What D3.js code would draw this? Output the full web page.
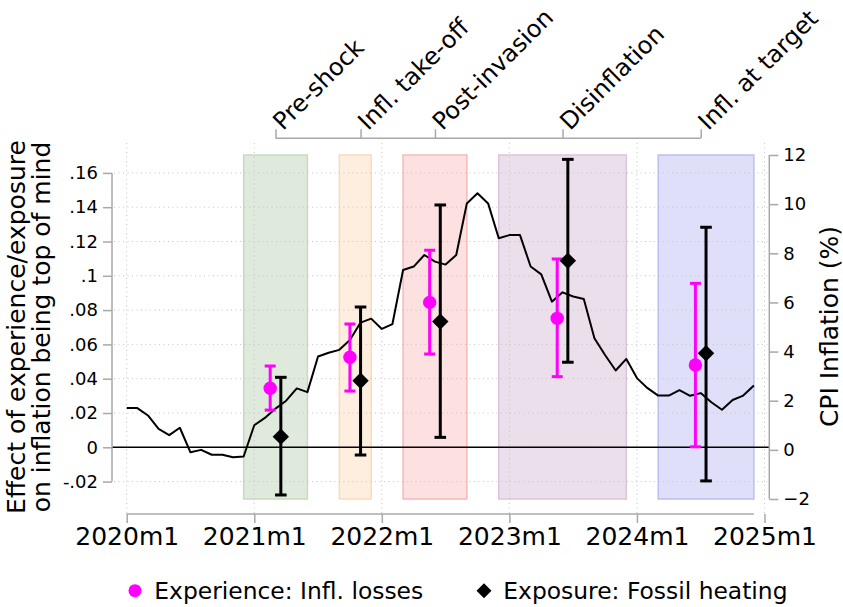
<!DOCTYPE html>
<html>
<head>
<meta charset="utf-8">
<script src="https://cdn.jsdelivr.net/npm/d3@7/dist/d3.min.js"></script>
<style>
  html, body { margin: 0; padding: 0; background: #fff; }
  svg { display: block; font-family: "DejaVu Sans", sans-serif; }
</style>
</head>
<body>
<svg id="chart" width="843" height="607"></svg>
<script>
// ---------------- DATA ----------------
// x positions are months since 2020m1
const yearTicks = [0, 12, 24, 36, 48, 60];
const yearLabels = ["2020m1", "2021m1", "2022m1", "2023m1", "2024m1", "2025m1"];

const periodTicks = [14, 22, 29, 41, 54];
const periodLabels = ["Pre-shock", "Infl. take-off", "Post-invasion", "Disinflation", "Infl. at target"];
const periodStart = [11, 20, 26, 35, 50];
const periodEnd = [17, 23, 32, 47, 59];

const leftTicks = [-0.02, 0, 0.02, 0.04, 0.06, 0.08, 0.10, 0.12, 0.14, 0.16];
const leftLabels = ["-.02", "0", ".02", ".04", ".06", ".08", ".1", ".12", ".14", ".16"];
const rightTicks = [-2, 0, 2, 4, 6, 8, 10, 12];

// CPI inflation (%), monthly 2020m1..2024m12
const cpi = [
  1.7, 1.7, 1.4, 0.85, 0.6, 0.9, -0.1, 0.0, -0.2, -0.2, -0.3, -0.27,
  1.0, 1.3, 1.68, 2.0, 2.5, 2.35, 3.8, 3.95, 4.07, 4.47, 5.18, 5.34,
  4.92, 5.12, 7.32, 7.46, 7.93, 7.66, 7.54, 7.93, 10.03, 10.44, 10.03, 8.61,
  8.74, 8.74, 7.46, 7.14, 6.03, 6.41, 6.24, 6.14, 4.54, 3.86, 3.23, 3.7,
  2.92, 2.51, 2.21, 2.21, 2.43, 2.2, 2.31, 1.94, 1.63, 2.03, 2.21, 2.62
];

// Experience: Infl. losses
const expX  = [13.5, 21.0, 28.5, 40.5, 53.5];
const expB  = [0.0344, 0.0525, 0.0845, 0.0752, 0.0480];
const expLo = [0.0217, 0.0328, 0.0544, 0.0412, 0.0003];
const expHi = [0.0474, 0.0719, 0.1149, 0.1098, 0.0956];

// Exposure: Fossil heating
const fosX  = [14.5, 22.0, 29.5, 41.5, 54.5];
const fosB  = [0.0062, 0.0388, 0.0733, 0.1088, 0.0548];
const fosLo = [-0.0278, -0.0045, 0.0058, 0.0496, -0.0196];
const fosHi = [0.0408, 0.0818, 0.1413, 0.1679, 0.1283];

const legendLabels = ["Experience: Infl. losses", "Exposure: Fossil heating"];
const leftTitle = ["Effect of experience/exposure", "on inflation being top of mind"];
const rightTitle = "CPI Inflation (%)";

// ---------------- STYLE ----------------
const bandFill = ["#dfe9dc", "#fdeedf", "#fde0e0", "#ecdfec", "#dfdff9"];
const bandStroke = ["#c6dcc2", "#fbdab8", "#f6b9b9", "#dcc4dc", "#bdbdf3"];
const axisGray = "#a8a8a8";
const gridGray = "#c4c4c4";
const magenta = "#ff00ff";

// ---------------- SCALES ----------------
const x = d3.scaleLinear().domain([0, 60]).range([126.7, 764.5]);
const yL = d3.scaleLinear().domain([-0.02, 0.16]).range([481.6, 172.9]);
const yR = d3.scaleLinear().domain([-2, 12]).range([499, 155]);

const plotLeft = 112, plotRight = 769.3;
const svg = d3.select("#chart");

function diamondPath(r) {
  return `M0,${-r}L${r},0L0,${r}L${-r},0Z`;
}

// ---------------- BANDS ----------------
svg.append("g").selectAll("rect")
  .data(periodStart.map((s, i) => ({ s, e: periodEnd[i], i })))
  .join("rect")
  .attr("x", d => x(d.s))
  .attr("width", d => x(d.e) - x(d.s))
  .attr("y", yR(12))
  .attr("height", yR(-2) - yR(12))
  .attr("fill", d => bandFill[d.i])
  .attr("stroke", d => bandStroke[d.i])
  .attr("stroke-width", 1.5);

// ---------------- GRID ----------------
const grid = svg.append("g");
grid.selectAll("line.h").data(leftTicks).join("line")
  .attr("x1", plotLeft + 2).attr("x2", plotRight - 2)
  .attr("y1", d => yL(d)).attr("y2", d => yL(d))
  .attr("stroke", gridGray).attr("stroke-width", 1).attr("stroke-dasharray", "1,3.5");
grid.selectAll("line.v").data(yearTicks).join("line")
  .attr("x1", d => x(d)).attr("x2", d => x(d))
  .attr("y1", 143).attr("y2", 513)
  .attr("stroke", gridGray).attr("stroke-width", 1).attr("stroke-dasharray", "1,3.5");

// zero line
svg.append("line")
  .attr("x1", plotLeft).attr("x2", plotRight)
  .attr("y1", yL(0)).attr("y2", yL(0))
  .attr("stroke", "#000").attr("stroke-width", 1.4);

// ---------------- CPI LINE ----------------
svg.append("path")
  .datum(cpi)
  .attr("fill", "none")
  .attr("stroke", "#000")
  .attr("stroke-width", 2)
  .attr("stroke-linejoin", "round")
  .attr("d", d3.line().x((d, i) => x(i)).y(d => yR(d)));

// ---------------- ERROR BARS & POINTS ----------------
function drawSeries(xs, lo, hi, color, cap) {
  const g = svg.append("g");
  xs.forEach((xv, i) => {
    g.append("line").attr("x1", x(xv)).attr("x2", x(xv))
      .attr("y1", yL(lo[i])).attr("y2", yL(hi[i]))
      .attr("stroke", color).attr("stroke-width", 3);
    [lo[i], hi[i]].forEach(v => {
      g.append("line").attr("x1", x(xv) - cap).attr("x2", x(xv) + cap)
        .attr("y1", yL(v)).attr("y2", yL(v))
        .attr("stroke", color).attr("stroke-width", 3);
    });
  });
  return g;
}
drawSeries(expX, expLo, expHi, magenta, 5.5)
  .selectAll("circle").data(expB).join("circle")
  .attr("cx", (d, i) => x(expX[i])).attr("cy", d => yL(d)).attr("r", 6.7)
  .attr("fill", magenta);
drawSeries(fosX, fosLo, fosHi, "#000", 5.8)
  .selectAll("path.pt").data(fosB).join("path")
  .attr("transform", (d, i) => `translate(${x(fosX[i])},${yL(d)})`)
  .attr("d", diamondPath(8.2)).attr("fill", "#000");

// ---------------- AXES ----------------
function styleAxis(g) {
  g.select(".domain").remove();
  g.selectAll(".tick line").attr("stroke", axisGray).attr("stroke-width", 1.5);
  g.selectAll(".tick text").attr("fill", "#000").attr("font-family", "DejaVu Sans");
}

// left axis
const gL = svg.append("g").attr("transform", `translate(${plotLeft},0)`)
  .call(d3.axisLeft(yL).tickValues(leftTicks).tickFormat((d, i) => leftLabels[i]).tickSize(9).tickPadding(5));
styleAxis(gL);
gL.selectAll(".tick text").attr("font-size", 18);
gL.append("line").attr("x1", 0).attr("x2", 0).attr("y1", yL(0.16)).attr("y2", yL(-0.02))
  .attr("stroke", axisGray).attr("stroke-width", 1.5);

// right axis
const gR = svg.append("g").attr("transform", `translate(${plotRight},0)`)
  .call(d3.axisRight(yR).tickValues(rightTicks).tickSize(9).tickPadding(5));
styleAxis(gR);
gR.selectAll(".tick text").attr("font-size", 18);
gR.append("line").attr("x1", 0).attr("x2", 0).attr("y1", yR(12)).attr("y2", yR(-2))
  .attr("stroke", axisGray).attr("stroke-width", 1.5);

// bottom axis
const gB = svg.append("g").attr("transform", `translate(0,514)`)
  .call(d3.axisBottom(x).tickValues(yearTicks).tickFormat((d, i) => yearLabels[i]).tickSize(9).tickPadding(4));
styleAxis(gB);
gB.selectAll(".tick text").attr("font-size", 25);
gB.append("line").attr("x1", x(0)).attr("x2", x(59)).attr("y1", 0).attr("y2", 0)
  .attr("stroke", axisGray).attr("stroke-width", 1.5);

// top axis (periods)
const gT = svg.append("g").attr("transform", `translate(0,138.3)`)
  .call(d3.axisTop(x).tickValues(periodTicks).tickFormat((d, i) => periodLabels[i]).tickSize(9).tickPadding(0));
styleAxis(gT);
gT.selectAll(".tick text")
  .attr("font-size", 24)
  .attr("text-anchor", "start")
  .attr("dy", 0)
  .attr("x", 7)
  .attr("y", -7)
  .attr("transform", "rotate(-45,7,-7)");
gT.append("line").attr("x1", x(periodTicks[0])).attr("x2", x(periodTicks[periodTicks.length - 1]))
  .attr("y1", 0).attr("y2", 0)
  .attr("stroke", axisGray).attr("stroke-width", 1.5);

// ---------------- TITLES ----------------
const lt = svg.append("text")
  .attr("transform", "translate(25,327) rotate(-90)")
  .attr("text-anchor", "middle")
  .attr("font-size", 25)
  .attr("fill", "#000");
lt.append("tspan").attr("x", 0).attr("y", 0).text(leftTitle[0]);
lt.append("tspan").attr("x", 0).attr("y", 25).text(leftTitle[1]);

svg.append("text")
  .attr("transform", "translate(838,326.5) rotate(-90)")
  .attr("text-anchor", "middle")
  .attr("font-size", 25)
  .attr("fill", "#000")
  .text(rightTitle);

// ---------------- LEGEND ----------------
const lg = svg.append("g");
lg.append("circle").attr("cx", 135).attr("cy", 590.7).attr("r", 6.5).attr("fill", magenta);
lg.append("text").attr("x", 154.3).attr("y", 599).attr("font-size", 23.4).text(legendLabels[0]);
lg.append("path").attr("transform", "translate(484,590.7)")
  .attr("d", diamondPath(7.5)).attr("fill", "#000");
lg.append("text").attr("x", 503.3).attr("y", 599).attr("font-size", 23.4).text(legendLabels[1]);
</script>
</body>
</html>
